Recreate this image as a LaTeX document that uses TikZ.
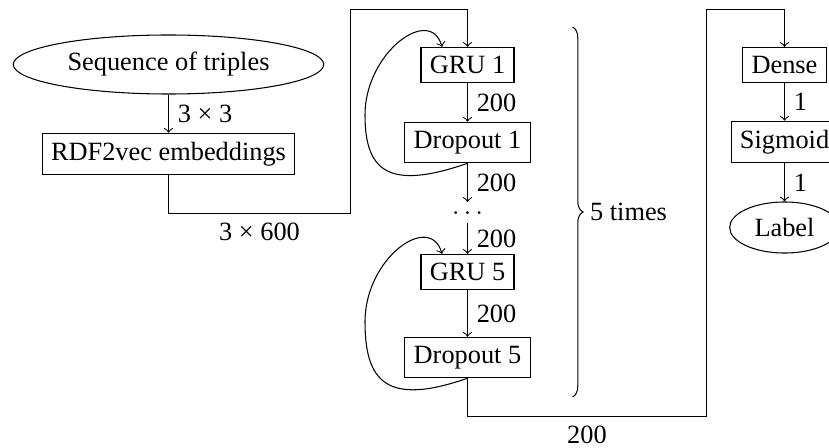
\documentclass[tikz,border=0pt]{standalone}
\usepackage{fontspec}
\setmainfont{Liberation Serif}
\usetikzlibrary{shapes.geometric,calc,decorations.pathreplacing}
\begin{document}
\begin{tikzpicture}[x=0.3795pt,y=-0.3795pt,
  box/.style={draw,rectangle},
  oval/.style={draw,ellipse},
  lab/.style={right},
  every path/.style={line width=0.4pt}]
\useasboundingbox (0,0) rectangle (829,448);
% left part
\node[oval] (seq) at (168.5,64.5) {Sequence of triples};
\node[box] (rdf) at (168.5,154) {RDF2vec embeddings};
% GRU column
\node[box] (gru1) at (467.5,65) {GRU 1};
\node[box] (drop1) at (467.5,142.5) {Dropout 1};
\node[anchor=base] (dots) at (467.5,214) {$\ldots$};
\node[box] (gru5) at (467.5,272) {GRU 5};
\node[box] (drop5) at (467.5,357.5) {Dropout 5};
% right column
\node[box] (dense) at (784.5,65) {Dense};
\node[box] (sig) at (784.5,142) {Sigmoid};
\node[oval] (lbl) at (784.5,227.5) {Label};
% helper coordinates
\coordinate (a1) at (350.5,213.5);
\coordinate (a2) at (350.5,9.5);
\coordinate (b1) at (706.5,416.5);
\coordinate (b2) at (706.5,9.5);
% connectors
\draw[->] (seq) -- node[lab] {3 × 3} (rdf);
\draw[->] (rdf.south) |- node[pos=0.75,below] {3 × 600} (a1) -- (a2) -| (gru1.north);
\draw[->] (gru1) -- node[lab] {200} (drop1);
\draw[->] (drop1) -- node[lab] {200} (dots);
\draw[->] (dots) -- node[lab] {200} (gru5);
\draw[->] (gru5) -- node[lab] {200} (drop5);
\draw[->] (drop5.south) |- node[pos=0.75,below] {200} (b1) -- (b2) -| (dense.north);
\draw[->] (dense) -- node[lab] {1} (sig);
\draw[->] (sig) -- node[lab] {1} (lbl);
% recurrent loops
\coordinate (l1) at ($(gru1.north)+(-102.5,68)$);
\coordinate (e1) at ($(gru1.north)+(-25.5,0)$);
\draw[->] (drop1.south) .. controls +(-80.5,28) and +(0,55) .. (l1)
  .. controls +(0,-62) and +(-12,-42) .. (e1);
\coordinate (l5) at ($(gru5.north)+(-102.5,68)$);
\coordinate (e5) at ($(gru5.north)+(-25.5,0)$);
\draw[->] (drop5.south) .. controls +(-80.5,28) and +(0,60) .. (l5)
  .. controls +(0,-64) and +(-12,-42) .. (e5);
% brace
\draw[decorate,decoration={brace,amplitude=4pt}] (572.5,27) -- (572.5,397);
\node[anchor=west,inner sep=2.5pt] (times) at (583,212) {5 times};
\end{tikzpicture}
\end{document}
